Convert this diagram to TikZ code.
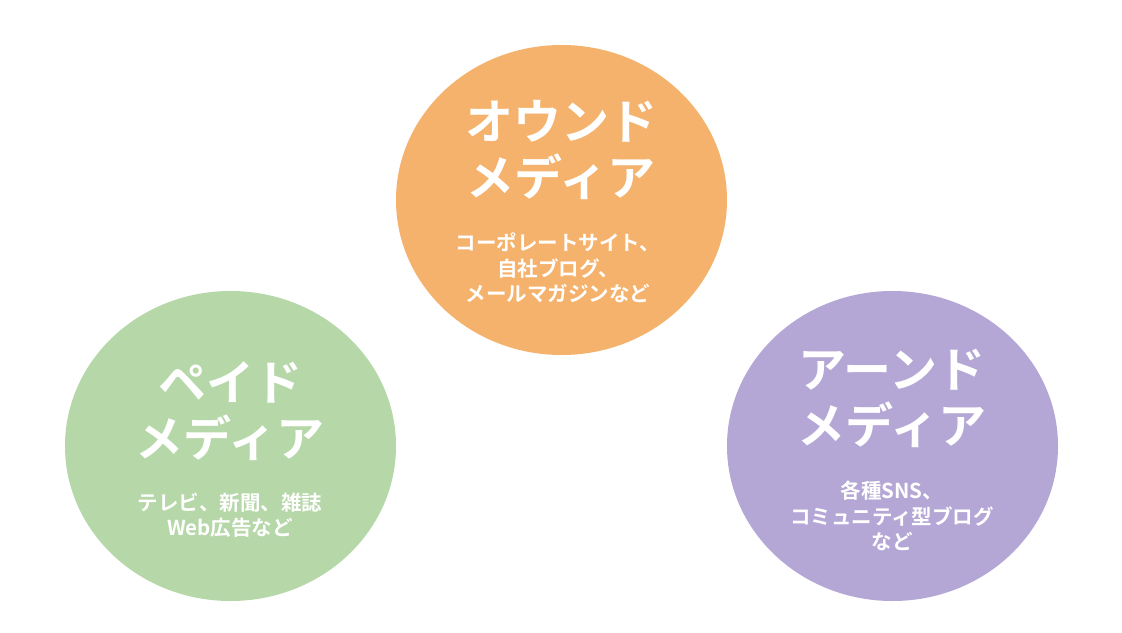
\documentclass[tikz,border=0pt]{standalone}
\usepackage{fontspec}
\setmainfont{Noto Sans CJK JP}[BoldFont={* Bold}]
\usetikzlibrary{shapes.geometric}
\definecolor{cOrange}{HTML}{F5B26C}
\definecolor{cGreen}{HTML}{B6D7A8}
\definecolor{cPurple}{HTML}{B4A7D6}
\begin{document}
\begin{tikzpicture}[x=1pt,y=-1pt,
  blob/.style={ellipse,minimum width=331pt,minimum height=310pt,inner sep=0pt,draw=none},
  title/.style={text=white,align=center,inner sep=0pt,font=\bfseries\fontsize{48pt}{56pt}\selectfont},
  sub/.style={text=white,align=center,inner sep=0pt,font=\bfseries\fontsize{20.5pt}{25.5pt}\selectfont}]
\useasboundingbox[fill=white] (0,0) rectangle (1122,632);
\node[blob,fill=cOrange] (owned) at (561.5,200) {};
\node[blob,fill=cGreen] (paid) at (230.5,446) {};
\node[blob,fill=cPurple] (earned) at (892.5,446) {};
\node[title] (ownedT) at (561,150) {オウンド\\メディア};
\node[sub] (ownedS) at (558,268) {コーポレートサイト、\\自社ブログ、\\メールマガジンなど};
\node[title] (paidT) at (230,411) {ペイド\\メディア};
\node[sub] (paidS) at (230,515) {テレビ、新聞、雑誌\\Web広告など};
\node[title] (earnedT) at (892,398) {アーンド\\メディア};
\node[sub] (earnedS) at (892,516) {各種SNS、\\コミュニティ型ブログ\\など};
\end{tikzpicture}
\end{document}
